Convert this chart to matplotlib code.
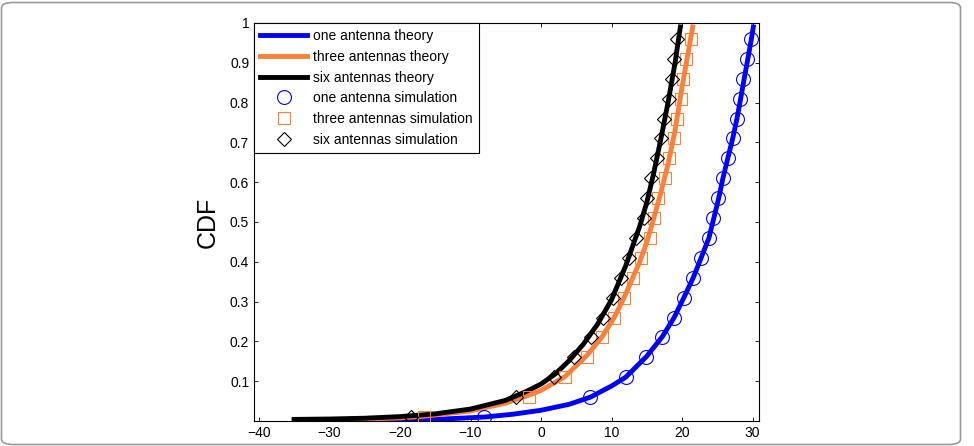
import matplotlib
matplotlib.use("Agg")
import matplotlib.pyplot as plt
from matplotlib.patches import FancyBboxPatch

plt.rcParams['font.family'] = ['Liberation Sans', 'DejaVu Sans']

# theory curves (x in dB, CDF)
one_x = [-35, -25, -15, -8, -4, 0, 4, 7, 10, 12, 15, 17.2, 18.9, 20.3, 21.6, 22.7,
         23.8, 24.5, 25.2, 25.8, 26.5, 27.2, 27.8, 28.3, 28.8, 29.3, 29.8, 30.1]
one_y = [0.0005, 0.001, 0.004, 0.01, 0.017, 0.027, 0.042, 0.06, 0.088, 0.11, 0.163,
         0.212, 0.261, 0.312, 0.361, 0.41, 0.46, 0.51, 0.561, 0.611, 0.662, 0.712,
         0.762, 0.81, 0.86, 0.908, 0.958, 0.99]

three_x = [-35, -30, -25, -20, -16.6, -10, -5, -1.7, 0, 3.35, 6.46, 8.67, 10.4, 11.8,
           13.0, 14.0, 15.0, 16.0, 17.0, 18.0, 19.0, 20.0, 21.0, 21.5]
three_y = [0.002, 0.003, 0.005, 0.008, 0.012, 0.025, 0.045, 0.065, 0.077, 0.111, 0.164,
           0.212, 0.261, 0.311, 0.36, 0.40, 0.45, 0.51, 0.575, 0.645, 0.73, 0.84,
           0.94, 0.99]

six_x = [-35, -30, -25, -20, -15, -10, -5, -2, 0, 2, 4, 6, 8, 10, 12, 14, 15, 16, 17,
         18, 19, 19.75]
six_y = [0.004, 0.005, 0.007, 0.011, 0.018, 0.03, 0.052, 0.075, 0.093, 0.118, 0.152,
         0.193, 0.243, 0.305, 0.39, 0.49, 0.55, 0.625, 0.71, 0.8, 0.9, 0.99]

# simulation markers
sim_cdf = [0.01, 0.06, 0.11, 0.16, 0.21, 0.26, 0.31, 0.36, 0.41, 0.46,
           0.51, 0.56, 0.61, 0.66, 0.71, 0.76, 0.81, 0.86, 0.91, 0.96]
one_sim = [-8.1, 6.9, 12.0, 14.85, 17.2, 18.86, 20.3, 21.6, 22.7, 23.8,
           24.4, 25.1, 25.8, 26.5, 27.2, 27.8, 28.2, 28.6, 29.2, 29.8]
three_sim = [-16.6, -1.7, 3.35, 6.46, 8.67, 10.4, 11.8, 13.0, 14.2, 15.5,
             16.0, 16.65, 17.6, 18.2, 18.85, 19.3, 19.8, 20.1, 20.6, 21.2]
six_sim = [-18.4, -3.5, 1.8, 4.7, 7.07, 8.8, 10.2, 11.3, 12.5, 13.5,
           14.6, 15.0, 15.65, 16.4, 17.0, 17.5, 18.1, 18.5, 18.85, 19.3]

x_ticks = [-40, -30, -20, -10, 0, 10, 20, 30]
y_ticks = [0.1, 0.2, 0.3, 0.4, 0.5, 0.6, 0.7, 0.8, 0.9, 1]
y_ticklabels = ['0.1', '0.2', '0.3', '0.4', '0.5', '0.6', '0.7', '0.8', '0.9', '1']

blue = '#0000ff'
orange = '#ff8038'

fig = plt.figure(figsize=(9.74, 4.46), dpi=100)
ax = fig.add_axes([254 / 974, 25 / 446, 505 / 974, 398 / 446])

ax.plot(one_x, one_y, color=blue, lw=3.5, label='one antenna theory', zorder=2)
ax.plot(three_x, three_y, color=orange, lw=3.5, label='three antennas theory', zorder=3)
ax.plot(six_x, six_y, color='black', lw=3.5, label='six antennas theory', zorder=4)

ax.plot(one_sim, sim_cdf, ls='none', marker='o', ms=10, mfc='none', mec=blue,
        mew=0.8, label='one antenna simulation', zorder=5)
ax.plot(three_sim, sim_cdf, ls='none', marker='s', ms=8.5, mfc='none', mec=orange,
        mew=0.8, label='three antennas simulation', zorder=5)
ax.plot(six_sim, sim_cdf, ls='none', marker='D', ms=7.5, mfc='none', mec='black',
        mew=0.8, label='six antennas simulation', zorder=5)

ax.set_xlim(-40.7, 30.9)
ax.set_ylim(0, 1)
ax.set_xticks(x_ticks)
ax.set_yticks(y_ticks)
ax.set_yticklabels(y_ticklabels)
ax.tick_params(direction='in', length=3, width=0.6, labelsize=10,
               top=True, right=True)
for s in ax.spines.values():
    s.set_linewidth(0.8)

ax.set_ylabel('CDF', fontsize=18, labelpad=7)

leg = ax.legend(loc='upper left', borderaxespad=0, fontsize=10, handlelength=3.4,
                labelspacing=0.48, handletextpad=0.4, borderpad=0.45,
                fancybox=False, framealpha=1)
leg.get_frame().set_edgecolor('black')
leg.get_frame().set_linewidth(0.8)

frame = FancyBboxPatch((1.5 / 974, 1.5 / 446), 959 / 974, 442 / 446,
                       boxstyle='round,pad=0,rounding_size=0.012',
                       transform=fig.transFigure, fill=False,
                       edgecolor='#9a9a9a', lw=1.2)
fig.patches.append(frame)

fig.savefig('out.png', dpi=100)
